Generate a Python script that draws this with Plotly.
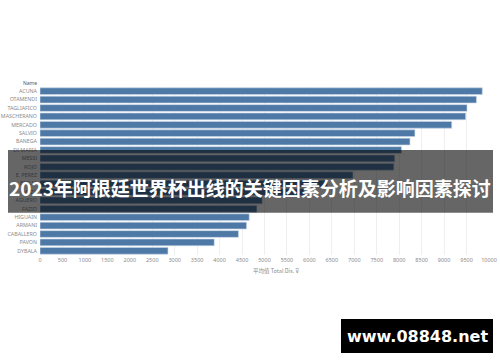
import plotly.graph_objects as go

names = ["ACUNA", "OTAMENDI", "TAGLIAFICO", "MASCHERANO", "MERCADO", "SALVIO", "BANEGA",
         "DI MARIA", "MESSI", "ROJO", "E. PEREZ", "BIGLIA", "MEZA", "AGUERO", "FAZIO",
         "HIGUAIN", "ARMANI", "CABALLERO", "PAVON", "DYBALA"]
total_dist = [9850, 9720, 9510, 9480, 9170, 8350, 8240,
              8050, 7900, 7880, 6970, 6400, 5950, 4950, 4830,
              4660, 4600, 4420, 3880, 2850]
x_ticks = list(range(0, 10001, 500))

title_text = "2023年阿根廷世界杯出线的关键因素分析及影响因素探讨"
watermark = "www.08848.net"

L, R, T, B = 40, 11, 87, 107
W, H = 500, 362
pw, ph = W - L - R, H - T - B

def px(x):
    return (x - L) / pw

def py(y):
    return (H - B - y) / ph

fig = go.Figure()
fig.add_trace(go.Bar(
    x=total_dist, y=names, orientation="h",
    marker=dict(color="#4e79a7", line=dict(color="#c9d6e6", width=0.6)),
    hoverinfo="skip",
))

fig.update_layout(
    width=W, height=H,
    margin=dict(l=L, r=R, t=T, b=B, autoexpand=False),
    paper_bgcolor="white", plot_bgcolor="white",
    bargap=0.2, showlegend=False,
    font=dict(family="Noto Sans, Noto Sans CJK SC", size=5, color="#8a8a8a"),
    xaxis=dict(range=[0, 10000], tickvals=x_ticks, ticktext=[str(v) for v in x_ticks],
               showgrid=True, gridcolor="#efefef", gridwidth=1, zeroline=False,
               showline=False, ticks="", automargin=False,
               tickfont=dict(size=5.5, color="#8a8a8a")),
    yaxis=dict(autorange="reversed", showgrid=False, zeroline=False, ticks="",
               automargin=False, tickfont=dict(size=5.3, color="#8a8a8a"),
               ticklabelstandoff=2),
)

def note(x, y, text, **font):
    fig.add_annotation(x=px(x), y=py(y), xref="paper", yref="paper", text=text,
                       xanchor="center", yanchor="middle", showarrow=False, font=font)

note(30, 83, "Name", size=5, color="#555555")
note(276, 271, "平均值 Total Dis. ⊽", size=5.5, color="#8a8a8a", family="Noto Sans CJK SC")

# dark banner
fig.add_shape(type="rect", xref="paper", yref="paper",
              x0=px(8), x1=px(493), y0=py(212.7), y1=py(150),
              fillcolor="rgba(0,0,0,0.6)", line=dict(width=0), layer="above")
note(250, 187, "<b>" + title_text + "</b>", size=19, color="white", family="Noto Sans CJK SC")

# watermark box
fig.add_shape(type="rect", xref="paper", yref="paper",
              x0=px(341), x1=px(493), y0=py(353), y1=py(319),
              fillcolor="black", line=dict(width=0), layer="above")
note(417, 336, "<b>" + watermark + "</b>", size=16, color="white", family="DejaVu Sans")

fig.write_html("out.html", config={"displayModeBar": False},
               post_script="document.body.style.margin='0';document.body.style.overflow='hidden';")
